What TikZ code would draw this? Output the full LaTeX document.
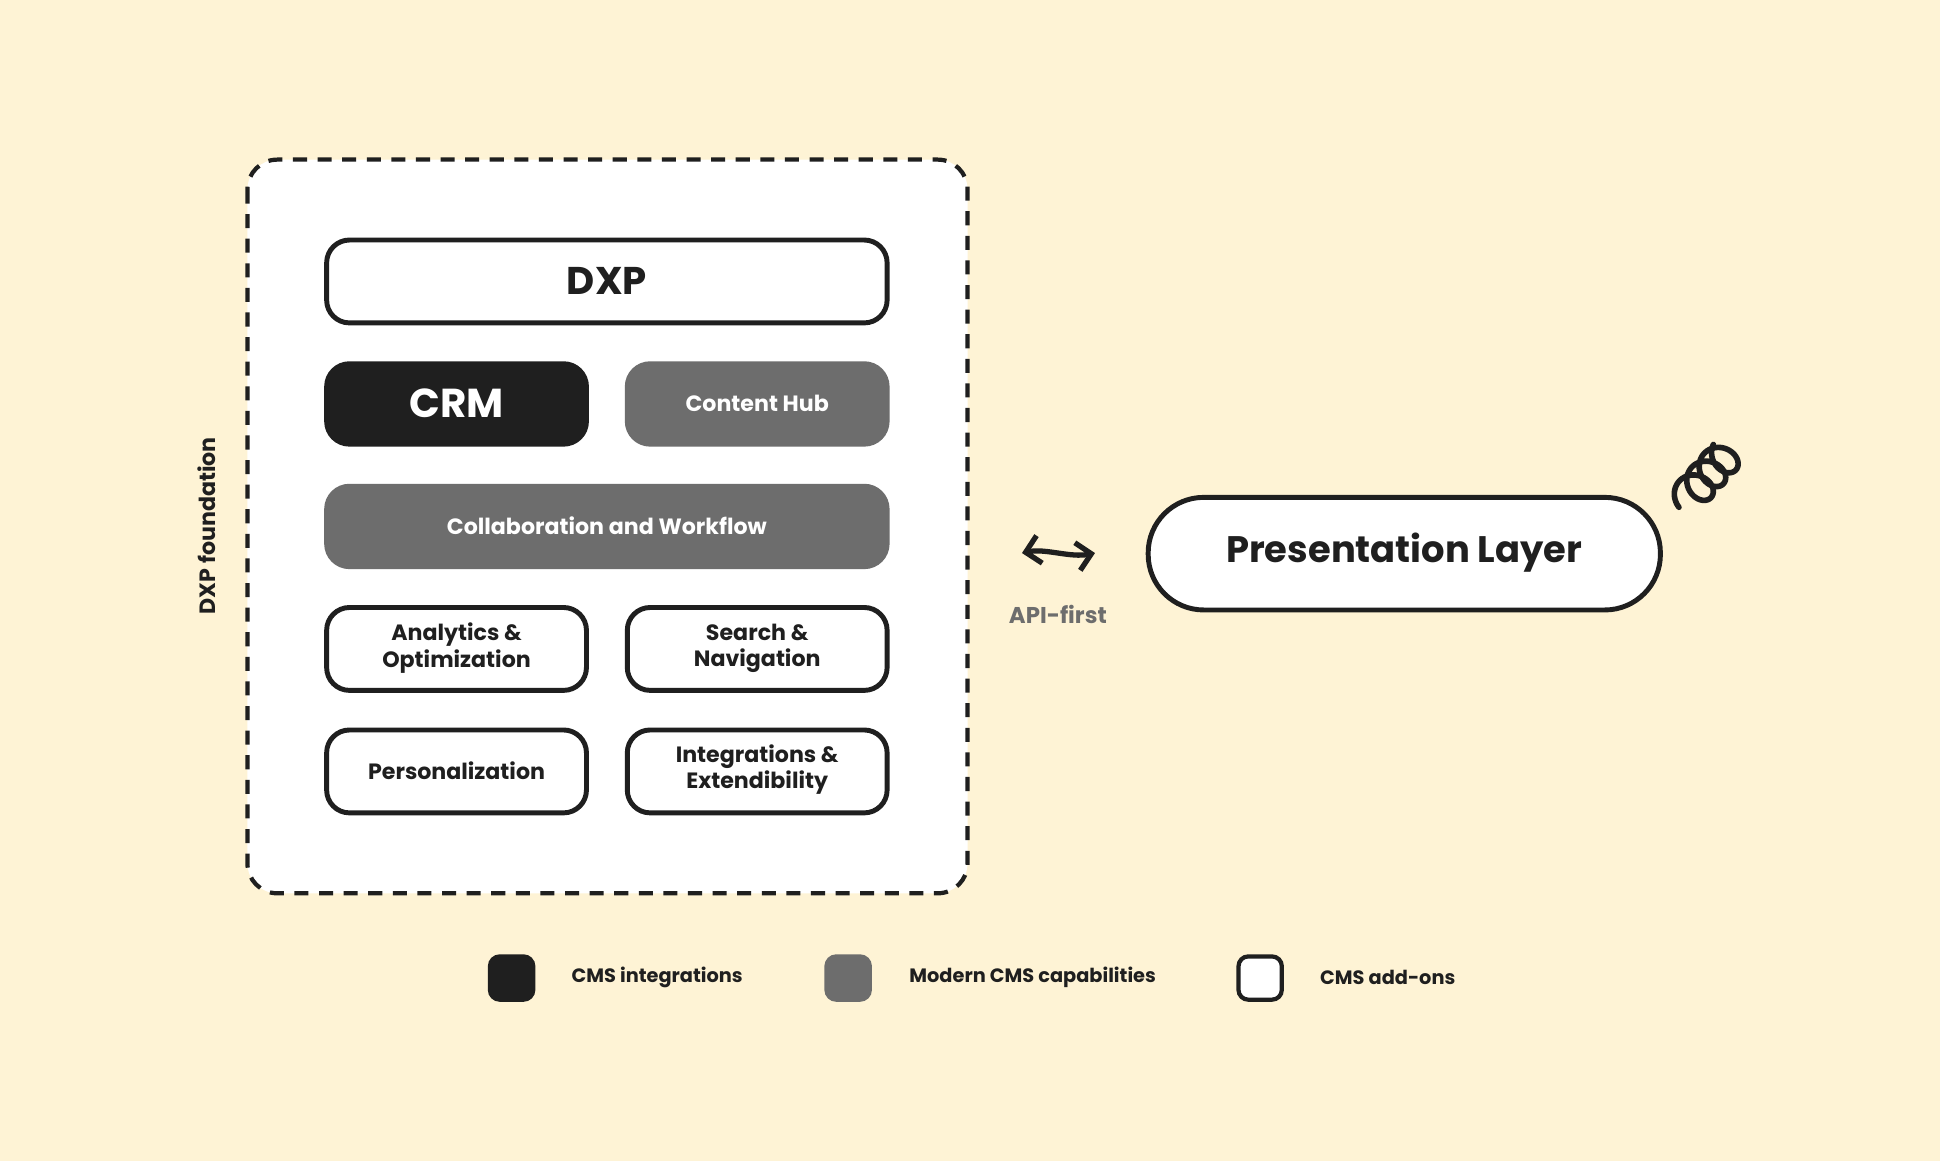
\documentclass[tikz,border=0pt]{standalone}
\usepackage{fontspec}
\setmainfont{Poppins}
\usetikzlibrary{arrows.meta}
\definecolor{bg}{HTML}{FEF3D5}
\definecolor{ink}{HTML}{1F1F1F}
\definecolor{gr}{HTML}{6D6D6D}
\begin{document}
\begin{tikzpicture}[x=0.012372cm,y=-0.012372cm,
  box/.style={draw=ink,line width=1.4pt,rounded corners=6.5pt},
  wt/.style={box,fill=white},
  bk/.style={box,fill=ink},
  gy/.style={box,draw=gr,fill=gr},
  lbl/.style={font=\bfseries\fontsize{6.3}{7.6}\selectfont,align=center,text=ink},
  wl/.style={font=\bfseries\fontsize{6.3}{7.6}\selectfont,align=center,text=white},
  leg/.style={font=\bfseries\fontsize{5.5}{6.5}\selectfont,text=ink,anchor=west}]
\fill[bg] (0,0) rectangle (1568,938);
\useasboundingbox (0,0) rectangle (1568,938);
\draw[ink,line width=1.2pt,dash pattern=on 4pt off 3pt,fill=white,rounded corners=8.5pt] (200,129) rectangle (782,722);
\draw[wt] (264,194) rectangle (717,261); \node[lbl,font=\bfseries\fontsize{11}{13}\selectfont] (dxp) at (490.5,227) {DXP};
\draw[bk] (264,294) rectangle (474,359); \node[wl,font=\bfseries\fontsize{11.5}{13}\selectfont] (crm) at (369,326) {CRM};
\draw[gy] (507,294) rectangle (717,359); \node[wl] (ch) at (612,326) {Content Hub};
\draw[gy] (264,393) rectangle (717,458); \node[wl] (cw) at (490.5,425) {Collaboration and Workflow};
\draw[wt] (264,491) rectangle (474,558); \node[lbl] (an) at (369,524) {Analytics \&\\Optimization};
\draw[wt] (507,491) rectangle (717,558); \node[lbl] (sn) at (612,524) {Search \&\\Navigation};
\draw[wt] (264,590) rectangle (474,657); \node[lbl] (pe) at (369,623) {Personalization};
\draw[wt] (507,590) rectangle (717,657); \node[lbl] (ie) at (612,622) {Integrations \&\\Extendibility};
\node[lbl,rotate=90] (fd) at (167,425) {DXP foundation};
\draw[wt,rounded corners=15.8pt] (928,402) rectangle (1342,493);
\node[lbl,font=\bfseries\fontsize{10.5}{12}\selectfont] (pl) at (1135,447) {Presentation Layer};
\coordinate (a1) at (826,447); \coordinate (a2) at (885,447);
\draw[ink,line width=1.5pt,{Straight Barb[length=4pt,width=8pt]}-{Straight Barb[length=4pt,width=8pt]}] (a1) .. controls (845,443) and (865,451) .. (a2);
\node[font=\bfseries\fontsize{6.5}{8}\selectfont,text=gr] (api) at (855,497) {API-first};
\draw[ink,line width=1.6pt,line cap=round,rotate around={48:(1357,410)},shift={(1357,410)}]
  plot[domain=0:3.2*360,samples=180,smooth] ({\x/360*15+12*sin(\x-90)+12},{-14*cos(\x-90)});
\draw[bk,rounded corners=2.8pt,line width=1.2pt] (396,773) rectangle (431,808);
\draw[gy,rounded corners=2.8pt,line width=1.2pt] (668,773) rectangle (703,808);
\draw[wt,rounded corners=2.8pt,line width=1.2pt] (1001,773) rectangle (1036,808);
\node[leg] (l1) at (452,790) {CMS integrations};
\node[leg] (l2) at (725,790) {Modern CMS capabilities};
\node[leg] (l3) at (1057,790) {CMS add-ons};
\end{tikzpicture}
\end{document}
